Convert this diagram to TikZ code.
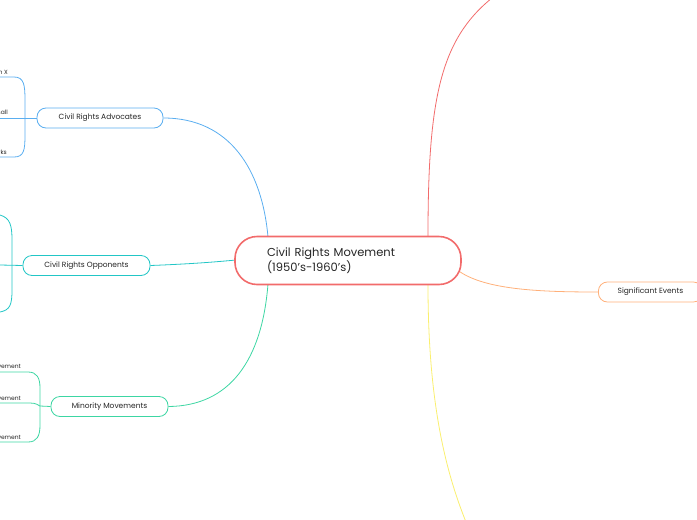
\documentclass[tikz,border=0pt]{standalone}
\usepackage{fontspec}
\setmainfont{Poppins}
\begin{document}
\begin{tikzpicture}[x=1pt,y=-1pt,
  sub/.style={draw,rounded corners=9pt,line width=0.8pt,fill=white,font=\fontsize{7.5}{9}\selectfont,inner xsep=0pt,minimum height=20pt,text=black!85},
  leaf/.style={font=\fontsize{6}{7}\selectfont,anchor=south east,inner sep=1pt,text=black!85},
  ln/.style={line width=0.8pt}]
\definecolor{cblue}{HTML}{5AAEF0}
\definecolor{cteal}{HTML}{22C6C6}
\definecolor{cgreen}{HTML}{3DD6A3}
\definecolor{cred}{HTML}{F26B6B}
\definecolor{corange}{HTML}{FFB07A}
\definecolor{cyellow}{HTML}{FAEF6E}
\useasboundingbox (0,0) rectangle (697,520);
\clip (0,0) rectangle (697,520);
% main connectors
\coordinate (rt) at (428,236);
\coordinate (rb) at (428,285);
\coordinate (topend) at (492,-2);
\coordinate (botend) at (466,522);
\draw[ln,cred] (rt) .. controls (428,100) and (440,40) .. (topend);
\draw[ln,cyellow] (rb) .. controls (428,400) and (445,470) .. (botend);
\node[sub,draw=corange,minimum width=104pt,anchor=west] (se) at (598,292) {Significant Events};
\draw[ln,corange] (455,268) .. controls (480,290) and (540,292) .. (se.west);
\node[sub,draw=cblue,minimum width=126pt] (adv) at (100,118) {Civil Rights Advocates};
\node[sub,draw=cteal,minimum width=127pt] (opp) at (86.5,265.5) {Civil Rights Opponents};
\node[sub,draw=cgreen,minimum width=117pt] (min) at (109.5,406.5) {Minority Movements};
\draw[ln,cblue] (adv.east) .. controls (230,118) and (262,170) .. (268,237);
\draw[ln,cteal] (opp.east) .. controls (190,264) and (215,262) .. (236,260);
\draw[ln,cgreen] (min.east) .. controls (230,406) and (262,360) .. (268,284);
\node[draw=cred,line width=1.6pt,rounded corners=22pt,fill=white,minimum width=226pt,minimum height=48pt,inner xsep=32pt,text width=162pt,align=left,font=\fontsize{11.5}{13.5}\selectfont,text=black!85] (root) at (348,260.5) {Civil Rights Movement\\(1950's-1960's)};
% advocates children
\node[leaf] (a1) at (9,76) {Malcolm X};
\node[leaf] (a2) at (9,117) {Thurgood Marshall};
\node[leaf] (a3) at (8,156) {Rosa Parks};
\draw[ln,cblue] (adv.west) -- (0,118);
\draw[ln,cblue] (0,77) -- (14,77) .. controls (24,77) and (25,85) .. (25,100) -- (25,135) .. controls (25,150) and (24,157) .. (14,157) -- (0,157);
% opponents
\draw[ln,cteal] (opp.west) -- (0,265);
\draw[ln,cteal] (0,215) .. controls (10,218) and (12,225) .. (12,240) -- (12,290) .. controls (12,305) and (10,310) .. (0,312);
% minority
\node[leaf] (m1) at (22,371) {Women's Rights Movement};
\node[leaf] (m2) at (22,402) {Chicano Movement};
\node[leaf] (m3) at (22,441) {American Indian Movement};
\draw[ln,cgreen] (min.west) -- (40,406);
\draw[ln,cgreen] (0,372) -- (28,372) .. controls (37,372) and (40,378) .. (40,388) -- (40,425) .. controls (40,436) and (37,442) .. (28,442) -- (0,442);
\draw[ln,cgreen] (0,403) -- (30,403) .. controls (36,403) and (38,405) .. (40,406);
\end{tikzpicture}
\end{document}
